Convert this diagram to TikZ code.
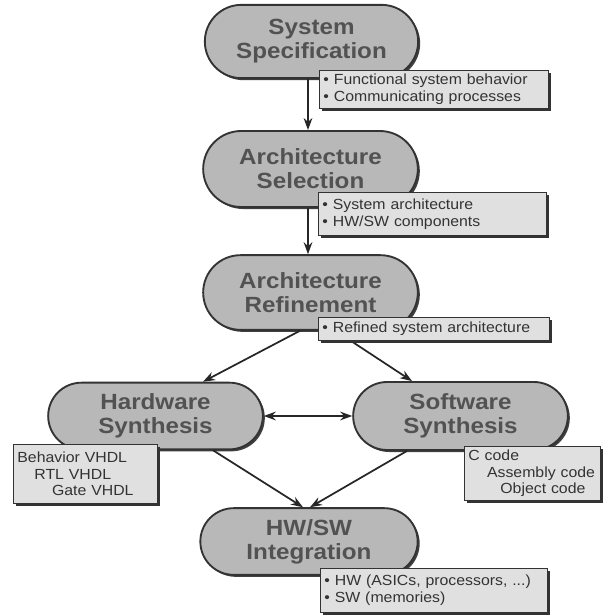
\documentclass[tikz,border=0pt]{standalone}
\usepackage{fontspec}
\setmainfont{Liberation Sans}
\newfontfamily\pillfont[FakeStretch=1.1]{Liberation Sans}
\newfontfamily\lblfont[FakeStretch=1.08]{Liberation Sans}
\usetikzlibrary{shapes.misc,shadows,arrows.meta,calc}
\begin{document}
\begin{tikzpicture}[x=0.75pt,y=-0.75pt,
 pill/.style={rounded rectangle, draw=black!80, line width=1.4pt, fill=black!28,
   drop shadow={shadow xshift=1.5pt, shadow yshift=-1.5pt, fill=black!75, opacity=1},
   font=\pillfont\bfseries\fontsize{16.5}{18}\selectfont, text=black!68, align=center, inner sep=0pt},
 lbl/.style={draw=black!80, line width=0.6pt, fill=black!12,
   drop shadow={shadow xshift=2pt, shadow yshift=-2pt, fill=black!80, opacity=1},
   font=\lblfont\fontsize{11}{12.5}\selectfont, text=black!80, align=left, anchor=north west,
   inner xsep=3pt, inner ysep=1pt},
 arr/.style={draw=black!85, line width=1.3pt, -{Stealth[length=9pt,width=6.5pt]}},
 dblarr/.style={draw=black!85, line width=1.3pt, {Stealth[length=9pt,width=6.5pt]}-{Stealth[length=9pt,width=6.5pt]}},
]
\useasboundingbox[fill=white] (0,0) rectangle (605,615);

% process pills
\node[pill, minimum width=160pt, minimum height=55pt] (spec) at (311.5,41.5) {System\\Specification};
\node[pill, minimum width=161pt, minimum height=57pt] (sel) at (310.5,169) {Architecture\\Selection};
\node[pill, minimum width=161pt, minimum height=56pt] (ref) at (310.5,292.5) {Architecture\\Refinement};
\node[pill, minimum width=161pt, minimum height=50pt] (hw) at (155.5,416) {Hardware\\Synthesis};
\node[pill, minimum width=161pt, minimum height=51pt] (sw) at (460.5,416) {Software\\Synthesis};
\node[pill, minimum width=163pt, minimum height=50pt] (int) at (309,541.5) {HW/SW\\Integration};

% connectors
\draw[arr] ($(spec.south)+(-3.5,0)$) -- ($(sel.north)+(-2.5,0)$);
\draw[arr] ($(sel.south)+(-2.5,0)$) -- ($(ref.north)+(-2.5,0)$);
\draw[arr] ($(ref.south)+(-10.5,0)$) -- ($(hw.north)+(47.5,0)$);
\draw[arr] ($(ref.south)+(25,0)$) -- ($(sw.north)+(-48.5,0)$);
\draw[dblarr] (hw.east) -- (sw.west);
\draw[arr] ($(hw.south)+(57.5,0)$) -- ($(int.north)+(-6,0)$);
\draw[arr] ($(sw.south)+(-53.5,0)$) -- ($(int.north)+(1,0)$);

% annotation boxes
\node[lbl, text width=165.75pt, minimum height=28.5pt] (l1) at (319,70)
  {• Functional system behavior\\• Communicating processes};
\node[lbl, text width=165pt, minimum height=32.25pt] (l2) at (318,192)
  {• System architecture\\• HW/SW components};
\node[lbl, text width=167.25pt, minimum height=17.25pt] (l3) at (318,317)
  {• Refined system architecture};
\node[lbl, text width=102pt, minimum height=44.25pt] (l4) at (13,444)
  {Behavior VHDL\\\hspace*{12.75pt}RTL VHDL\\\hspace*{26pt}Gate VHDL};
\node[lbl, text width=96pt, minimum height=40.5pt] (l5) at (464,446)
  {C code\\\hspace*{14pt}Assembly code\\\hspace*{24pt}Object code};
\node[lbl, text width=164.25pt, minimum height=33pt] (l6) at (320,568)
  {• HW (ASICs, processors, ...)\\• SW (memories)};
\end{tikzpicture}
\end{document}
